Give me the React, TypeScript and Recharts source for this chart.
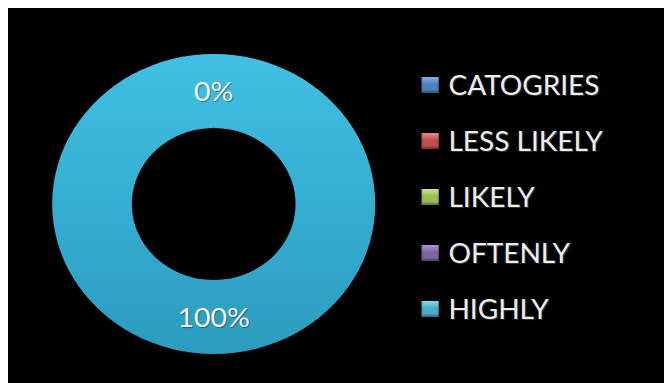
import { PieChart, Pie, Cell, Legend } from "recharts";

const categories = ["CATOGRIES", "LESS LIKELY", "LIKELY", "OFTENLY", "HIGHLY"];
const values = [0, 0, 0, 0, 100];
const colors = ["#4F81BD", "#C0504D", "#9BBB59", "#8064A2", "#4BACC6"];
const lightColors = ["#7FB0EE", "#F08A86", "#C9E88A", "#B095D6", "#7FE0F4"];

const data = categories.map((name, i) => ({ name, value: values[i] }));

const RAD = Math.PI / 180;

function renderLabel(props: any) {
  const { cx, cy, midAngle, innerRadius, outerRadius, percent, index, value } = props;
  // zero slices all sit on top of each other, show just one of them
  if (value === 0 && index !== 0) return null;
  const r = (innerRadius + outerRadius) / 2;
  const x = cx + r * Math.cos(-midAngle * RAD);
  const y = cy + r * Math.sin(-midAngle * RAD);
  return (
    <text
      x={x}
      y={y}
      fill="#F4F4F4"
      textAnchor="middle"
      dominantBaseline="central"
      fontSize={26.5}
      fontFamily="Lato, sans-serif"
      style={{ textShadow: "1px 1px 1px rgba(0,0,0,0.35)" }}
    >
      {`${Math.round((percent ?? 0) * 100)}%`}
    </text>
  );
}

// legend keeps the sheet's row order (recharts would sort it)
function LegendList() {
  return (
    <div>
      {categories.map((name, i) => (
        <div key={name} style={{ height: 56, display: "flex", alignItems: "center" }}>
          <span
            style={{
              width: 16,
              height: 16,
              marginRight: 9,
              background: `linear-gradient(to bottom, ${lightColors[i]} 0%, ${colors[i]} 45%, ${colors[i]} 100%)`,
              boxShadow: "inset 0 -2px 2px rgba(0,0,0,0.35)",
            }}
          />
          <span
            style={{
              color: "#EDEDED",
              fontSize: 26,
              fontFamily: "Lato, sans-serif",
              whiteSpace: "nowrap",
              textShadow: "1px 1px 1px rgba(120,120,120,0.5)",
            }}
          >
            {name}
          </span>
        </div>
      ))}
    </div>
  );
}

export default function App() {
  return (
    <div style={{ width: 664, height: 375, background: "#000", overflow: "hidden" }}>
      <div style={{ width: 617, height: 375, transform: "scaleX(1.077)", transformOrigin: "0 0" }}>
        <PieChart width={617} height={375} margin={{ top: 0, right: 0, bottom: 0, left: 0 }}>
          <defs>
            <linearGradient id="ringFill" x1="0" y1="0" x2="0" y2="1">
              <stop offset="0%" stopColor="#40C0E3" />
              <stop offset="50%" stopColor="#36AED2" />
              <stop offset="100%" stopColor="#2B9CBE" />
            </linearGradient>
          </defs>
          <Pie
            data={data}
            dataKey="value"
            nameKey="name"
            cx={191}
            cy={196}
            innerRadius={76}
            outerRadius={150}
            startAngle={90}
            endAngle={-270}
            stroke="none"
            label={renderLabel}
            labelLine={false}
            isAnimationActive={false}
          >
            {data.map((d, i) => (
              <Cell key={d.name} fill={i === 4 ? "url(#ringFill)" : colors[i]} />
            ))}
          </Pie>
          <Legend
            layout="vertical"
            verticalAlign="top"
            align="right"
            content={<LegendList />}
            wrapperStyle={{ left: 384, right: "auto", top: 49, width: 230 }}
          />
        </PieChart>
      </div>
    </div>
  );
}
